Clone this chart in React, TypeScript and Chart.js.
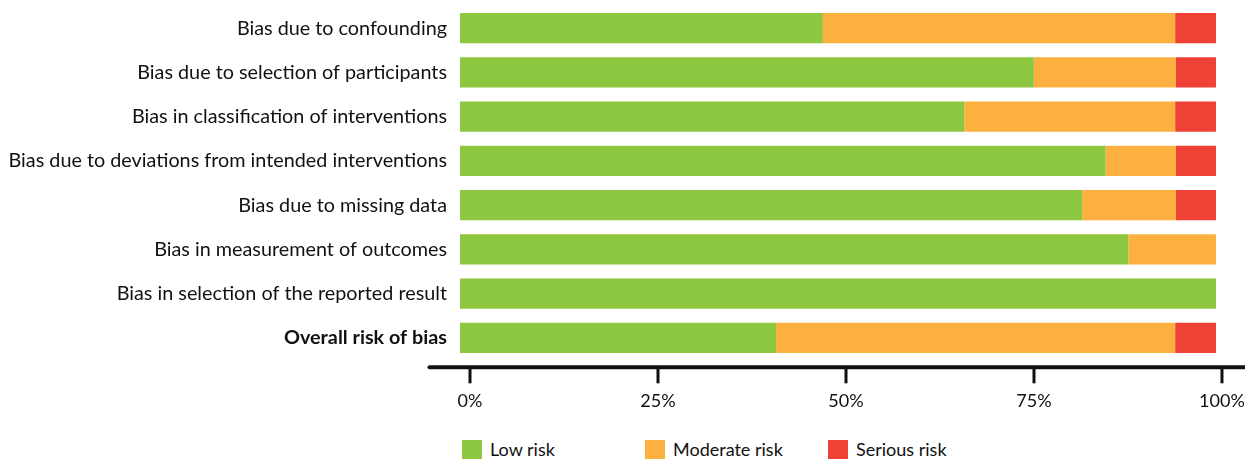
import React, { useEffect, useRef } from 'react';
import { Chart, registerables } from 'chart.js';

Chart.register(...registerables);

const domains = [
  'Bias due to confounding',
  'Bias due to selection of participants',
  'Bias in classification of interventions',
  'Bias due to deviations from intended interventions',
  'Bias due to missing data',
  'Bias in measurement of outcomes',
  'Bias in selection of the reported result',
  'Overall risk of bias',
];
const lowRisk = [48.0, 75.9, 66.7, 85.4, 82.3, 88.4, 100, 41.8];
const moderateRisk = [46.6, 18.8, 27.9, 9.3, 12.4, 11.6, 0, 52.8];
const seriousRisk = [5.4, 5.3, 5.4, 5.3, 5.3, 0, 0, 5.4];
const seriesNames = ['Low risk', 'Moderate risk', 'Serious risk'];
const seriesColors = ['#8DC63F', '#FBB040', '#EF4136'];
const tickValues = [0, 25, 50, 75, 100];

const FONT = 'Lato, "Open Sans", sans-serif';

const axisLinePlugin = {
  id: 'axisLine',
  afterDraw(chart: any) {
    const { ctx, chartArea } = chart;
    const sx = chart.scales.x;
    const y = chartArea.bottom + 7.3;
    ctx.save();
    ctx.strokeStyle = '#111';
    ctx.lineWidth = 4;
    ctx.lineCap = 'round';
    ctx.beginPath();
    ctx.moveTo(chartArea.left - 30.5, y);
    ctx.lineTo(chart.width + 5, y);
    ctx.stroke();
    ctx.lineWidth = 3;
    ctx.lineCap = 'butt';
    sx.ticks.forEach((t: any) => {
      const px = sx.getPixelForValue(t.value);
      ctx.beginPath();
      ctx.moveTo(px, y);
      ctx.lineTo(px, y + 16);
      ctx.stroke();
    });
    ctx.restore();
  },
};

export default function App() {
  const canvasRef = useRef<HTMLCanvasElement | null>(null);

  useEffect(() => {
    if (!canvasRef.current) return;
    Chart.defaults.font.family = FONT;
    const seriesData = [lowRisk, moderateRisk, seriousRisk];
    const chart = new Chart(canvasRef.current, {
      type: 'bar',
      data: {
        labels: domains,
        datasets: seriesNames.map((name, i) => ({
          label: name,
          data: seriesData[i],
          backgroundColor: seriesColors[i],
          borderWidth: 0,
          xAxisID: 'xb',
          barPercentage: 0.678,
          categoryPercentage: 1,
        })),
      },
      options: {
        indexAxis: 'y',
        responsive: false,
        animation: false,
        layout: { padding: { top: 6, left: 0, right: 0, bottom: 0 } },
        plugins: {
          legend: { display: false },
          tooltip: { enabled: false },
        },
        scales: {
          xb: {
            type: 'linear',
            display: false,
            stacked: true,
            min: 0,
            max: 103.84,
          },
          x: {
            type: 'linear',
            position: 'bottom',
            min: -1.33,
            max: 103.06,
            grid: { display: false, drawTicks: false },
            border: { display: false },
            afterBuildTicks: (s: any) => {
              s.ticks = tickValues.map((v) => ({ value: v }));
            },
            ticks: {
              padding: 30,
              color: '#111',
              font: { size: 18 },
              autoSkip: false,
              maxRotation: 0,
              callback: (v: any) => v + '%',
            },
            afterFit: (s: any) => {
              s.height = 70;
              s.paddingLeft = 0;
              s.paddingRight = 0;
            },
          },
          y: {
            type: 'category',
            stacked: true,
            grid: { display: false, drawTicks: false },
            border: { display: false },
            ticks: {
              padding: 13,
              color: '#111',
              autoSkip: false,
              font: (ctx: any) => ({
                size: 19.8,
                family: FONT,
                weight: ctx.index === domains.length - 1 ? 'bold' : 'normal',
              }),
            },
            afterFit: (s: any) => {
              s.width = 460;
              s.paddingTop = 0;
              s.paddingBottom = 0;
            },
          },
        },
      } as any,
      plugins: [axisLinePlugin],
    });
    return () => chart.destroy();
  }, []);

  return (
    <div
      style={{
        position: 'fixed',
        left: 0,
        top: 0,
        width: 1245,
        height: 459,
        background: '#fff',
        overflow: 'hidden',
      }}
    >
      <canvas ref={canvasRef} width={1245} height={430} style={{ display: 'block' }} />
      <div
        style={{
          position: 'absolute',
          left: 462,
          top: 440,
          display: 'flex',
          fontFamily: FONT,
          fontSize: 18,
          color: '#111',
        }}
      >
        {seriesNames.map((name, i) => (
          <div key={name} style={{ width: 183, display: 'flex', alignItems: 'center', height: 19 }}>
            <span
              style={{
                width: 20,
                height: 19,
                background: seriesColors[i],
                display: 'inline-block',
                marginRight: 8,
              }}
            />
            <span style={{ lineHeight: '19px' }}>{name}</span>
          </div>
        ))}
      </div>
    </div>
  );
}
